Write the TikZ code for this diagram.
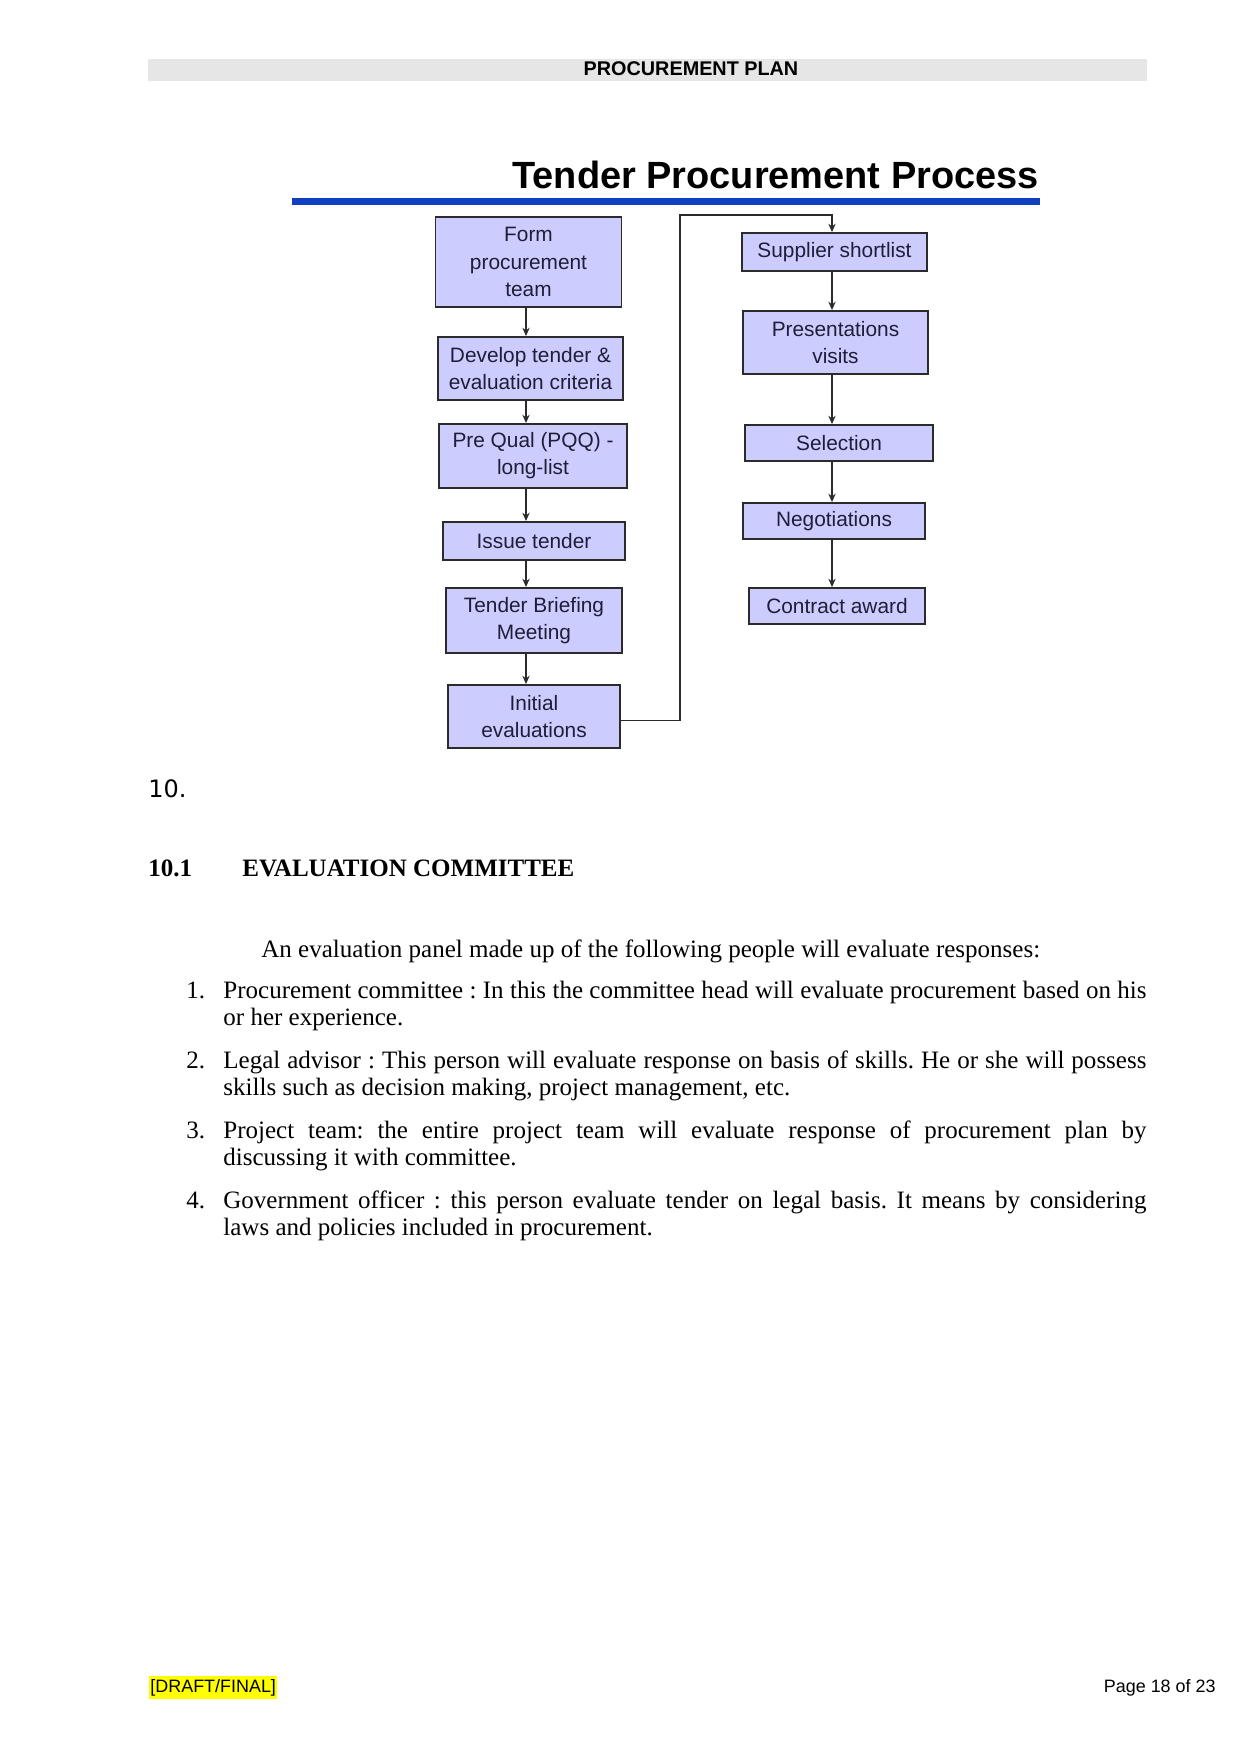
\documentclass[tikz,border=0pt]{standalone}
\usepackage{fontspec}
\setmainfont{Liberation Serif}
\setsansfont{Liberation Sans}
\newfontfamily\dvsans{DejaVu Sans}
\usetikzlibrary{arrows.meta, positioning}
\definecolor{ink}{HTML}{1E1E38}
\definecolor{edge}{HTML}{2B2B2B}
\definecolor{lav}{HTML}{CCCCFF}
\definecolor{rule}{HTML}{1040C0}
\definecolor{hdr}{HTML}{E6E6E6}
\definecolor{hilite}{HTML}{FFFF00}
\newcommand\pxu{0.4797pt}
\frenchspacing
\tikzset{
  box/.style={draw=edge, fill=lav, line width=0.9pt, align=center, inner sep=2pt,
              font=\sffamily\fontsize{10}{13}\selectfont, text=ink},
  sz/.style 2 args={minimum width=#1*\pxu, minimum height=#2*\pxu},
  fl/.style={-{Stealth[length=4pt, width=3.5pt]}, line width=0.7pt, draw=edge},
  body/.style={anchor=base west, inner sep=0pt, font=\fontsize{12}{13}\selectfont},
  item/.style={body, text width=442.8pt, align=justify},
  foot/.style={inner sep=0pt, font=\sffamily\fontsize{8.6}{10}\selectfont},
}

\begin{document}
\begin{tikzpicture}[x=0.4797pt, y=-0.4797pt]
  \useasboundingbox (0,0) rectangle (1241,1754);
  % page header
  \fill[hdr] (148,59) rectangle (1147,81);
  \node[anchor=base, inner sep=0pt, font=\sffamily\bfseries\fontsize{9.5}{11}\selectfont]
    (hd) at (691,76) {PROCUREMENT PLAN};
  % title and rule
  \node[anchor=base west, inner sep=0pt, font=\sffamily\bfseries\fontsize{18.2}{20}\selectfont]
    (ttl) at (512,188) {Tender Procurement Process};
  \draw[rule, line width=3.3pt] (292,201.5) -- (1040,201.5);
  % left column
  \node[box, sz={186}{90}] (fpt) at (528.5,262) {Form\\procurement\\team};
  \node[box, sz={185}{63}] (dev) at (530.5,368.5) {Develop tender \&\\evaluation criteria};
  \node[box, sz={188}{64}] (pqq) at (533,456) {Pre Qual (PQQ) -\\long-list};
  \node[box, sz={182}{38}] (iss) at (534,541) {Issue tender};
  \node[box, sz={176}{65}] (brf) at (534,620.5) {Tender Briefing\\Meeting};
  \node[box, sz={172}{63}] (ini) at (534,716.5) {Initial\\evaluations};
  % right column
  \node[box, sz={185}{38}] (sup) at (834.5,252) {Supplier shortlist};
  \node[box, sz={185}{63}] (pres) at (835.5,342.5) {Presentations\\visits};
  \node[box, sz={188}{36}] (sel) at (839,443) {Selection};
  \node[box, sz={182}{36}] (neg) at (834,521) {Negotiations};
  \node[box, sz={176}{36}] (con) at (837,606) {Contract award};
  % arrows
  \coordinate (lx) at (526,0);
  \coordinate (rx) at (832,0);
  \coordinate (top) at (680,215);
  \foreach \a/\b in {fpt/dev, dev/pqq, pqq/iss, iss/brf, brf/ini}
    \draw[fl] (\a.south -| lx) -- (\b.north -| lx);
  \foreach \a/\b in {sup/pres, pres/sel, sel/neg, neg/con}
    \draw[fl] (\a.south -| rx) -- (\b.north -| rx);
  \draw[fl] ([yshift=-2pt]ini.east) -| (top) -| (sup.north -| rx);
  % section text
  \node[anchor=base west, inner sep=0pt, font=\dvsans\fontsize{11.5}{13}\selectfont]
    (sec) at (148,797) {10.};
  \node[anchor=base west, inner sep=0pt, font=\bfseries\fontsize{12}{13}\selectfont]
    (snum) at (148,876) {10.1};
  \node[anchor=base west, inner sep=0pt, font=\bfseries\fontsize{12}{13}\selectfont]
    (stl) at (242,876) {EVALUATION COMMITTEE};
  \node[body] (intro) at (261,957)
    {An evaluation panel made up of the following people will evaluate responses:};
  \node[body] (n1) at (186,998) {1.};
  \node[item] (t1) at (223,998)
    {Procurement committee : In this the committee head will evaluate procurement based on his\linebreak
     or her experience.};
  \node[body] (n2) at (186,1068) {2.};
  \node[item] (t2) at (223,1068)
    {Legal advisor : This person will evaluate response on basis of skills. He or she will possess\linebreak
     skills such as decision making, project management, etc.};
  \node[body] (n3) at (186,1138) {3.};
  \node[item] (t3) at (223,1138)
    {Project team: the entire project team will evaluate response of procurement plan by\linebreak
     discussing it with committee.};
  \node[body] (n4) at (186,1208) {4.};
  \node[item] (t4) at (223,1208)
    {Government officer : this person evaluate tender on legal basis. It means by considering\linebreak
     laws and policies included in procurement.};
  % footer
  \node[foot, anchor=base west, fill=hilite, inner xsep=0.5pt, inner ysep=1.5pt]
    (dft) at (149,1692) {[DRAFT/FINAL]};
  \node[foot, anchor=base east] (pg) at (1216,1692) {Page 18 of 23};
\end{tikzpicture}
\end{document}
